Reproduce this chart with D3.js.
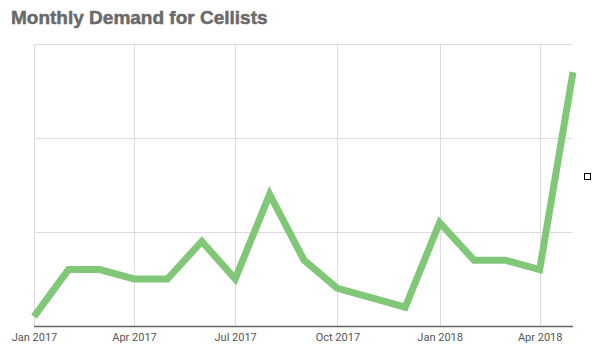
<!DOCTYPE html>
<html><head><meta charset="utf-8">
<script src="https://cdn.jsdelivr.net/npm/d3@7"></script>
<style>body{margin:0;background:#fff;} svg{display:block;}</style>
</head><body>
<svg id="c" width="615" height="350"></svg>
<script>
const title = "Monthly Demand for Cellists";
const months = ["2017-01","2017-02","2017-03","2017-04","2017-05","2017-06","2017-07","2017-08","2017-09","2017-10","2017-11","2017-12","2018-01","2018-02","2018-03","2018-04","2018-05"];
const demand = [1,6,6,5,5,9,5,14,7,4,3,2,11,7,7,6,27];
const yTicks = [0,10,20,30];
const xTickDates = ["2017-01","2017-04","2017-07","2017-10","2018-01","2018-04"];

const parse = d3.utcParse("%Y-%m");
const data = months.map((m,i)=>({date:parse(m), v:demand[i]}));
const svg = d3.select("#c");
const L=34, R=573, T=44, B=326;
const x = d3.scaleUtc().domain([parse("2017-01"), parse("2018-05")]).range([L,R]);
const y = d3.scaleLinear().domain([0,30]).range([B,T]);

svg.append("text").attr("x",11).attr("y",24).text(title)
  .attr("font-family","Liberation Sans, Arial, sans-serif").attr("font-weight","bold")
  .attr("font-size",19).attr("fill","#6a6a6a").attr("stroke","#6a6a6a").attr("stroke-width",0.5);

const g = svg.append("g");
g.selectAll("line.h").data(yTicks.slice(1)).join("line")
  .attr("x1",L).attr("x2",R).attr("y1",d=>Math.round(y(d))+0.5).attr("y2",d=>Math.round(y(d))+0.5)
  .attr("stroke","#dcdcdc").attr("stroke-width",1);
const xt = xTickDates.map(parse);
g.selectAll("line.v").data(xt).join("line")
  .attr("x1",d=>Math.round(x(d))+0.5).attr("x2",d=>Math.round(x(d))+0.5).attr("y1",T).attr("y2",B)
  .attr("stroke","#dcdcdc").attr("stroke-width",1);

const line = d3.line().x(d=>x(d.date)).y(d=>y(d.v));
svg.append("path").datum(data).attr("d",line).attr("fill","none")
  .attr("stroke","#80c878").attr("stroke-width",7).attr("stroke-linejoin","miter").attr("stroke-linecap","butt");

const ax = svg.append("g").attr("transform",`translate(0,${B})`)
  .call(d3.axisBottom(x).tickValues(xt).tickFormat(d3.utcFormat("%b %Y")).tickSize(0).tickPadding(7));
ax.select(".domain").attr("stroke","#666").attr("stroke-width",1.5).attr("d",`M${L},0.5H${R}`);
ax.selectAll("text").attr("font-family","Roboto, sans-serif").attr("font-size",11).attr("fill","#555");

svg.append("rect").attr("x",584.5).attr("y",173.5).attr("width",6).attr("height",6)
  .attr("fill","#fff").attr("stroke","#000").attr("stroke-width",1);
</script>
</body></html>
